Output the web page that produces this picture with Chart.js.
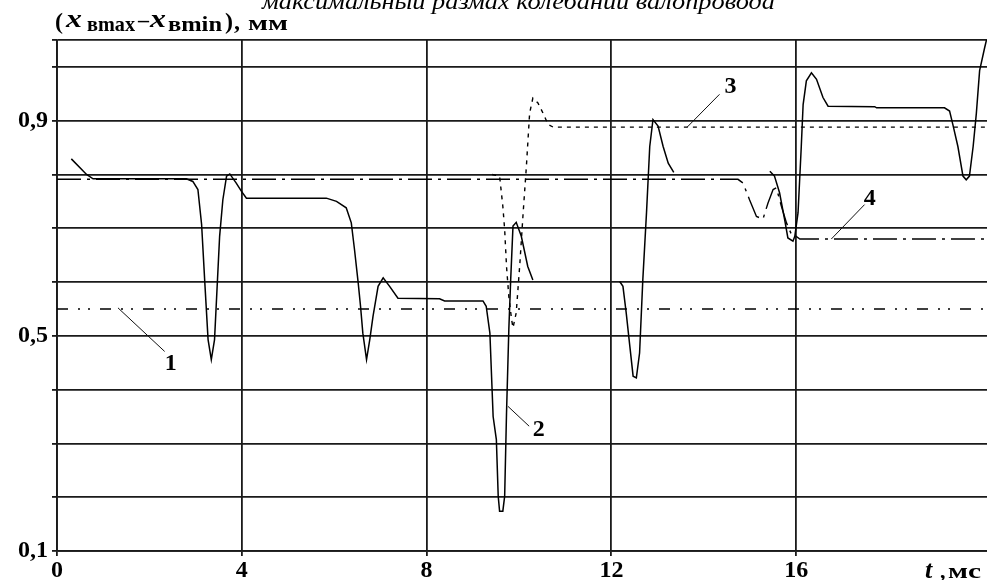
<!DOCTYPE html>
<html><head><meta charset="utf-8">
<script src="https://cdn.jsdelivr.net/npm/chart.js@4.4.0/dist/chart.umd.min.js"></script>
<style>html,body{margin:0;padding:0;background:#fff;overflow:hidden}#wrap{width:987px;height:580px;position:relative}</style>
</head><body><div id="wrap"><canvas id="c" width="987" height="580"></canvas></div>
<script>
// ---- data ----
const xTicks = [0, 4, 8, 12, 16];
const yTicks = [0.1, 0.2, 0.3, 0.4, 0.5, 0.6, 0.7, 0.8, 0.9, 1.0, 1.05];
const yLabeled = [0.1, 0.5, 0.9];
const xMin = 0, xMax = 20.13, yMin = 0.1, yMax = 1.05;

// series 1 (dash-dot-dot)
const s1T = [0, 20.13];
const s1V = [0.55, 0.55];

// series 2 (solid, segmented; null = gap)
const s2T = [0.31,0.64,0.78,2.80,2.94,3.05,3.13,3.20,3.27,3.34,3.41,3.52,3.59,3.67,3.74,3.88,3.99,4.10,5.83,6.05,6.26,6.37,6.44,6.52,6.57,6.62,6.70,6.77,6.84,6.95,7.06,7.20,7.38,8.28,8.39,9.22,9.29,9.37,9.44,9.51,9.55,9.58,9.65,9.69,9.73,9.78,9.82,9.87,9.94,10.05,10.19,10.30,
  11.2,
  12.18,12.25,12.32,12.40,12.47,12.54,12.61,12.68,12.76,12.83,12.90,13.01,13.12,13.23,13.35,
  14.4,
  15.43,15.53,15.64,15.75,15.82,15.93,15.97,16.04,16.11,16.15,16.22,16.33,16.44,16.58,16.69,17.70,17.74,19.21,19.32,19.39,19.50,19.61,19.68,19.75,19.83,19.90,19.97,20.08,20.13];
const s2V = [0.829,0.800,0.792,0.792,0.787,0.772,0.707,0.598,0.493,0.456,0.493,0.685,0.753,0.797,0.801,0.784,0.769,0.756,0.756,0.750,0.738,0.710,0.660,0.598,0.555,0.505,0.456,0.493,0.536,0.592,0.608,0.592,0.570,0.569,0.565,0.565,0.555,0.505,0.350,0.307,0.202,0.174,0.174,0.202,0.357,0.512,0.604,0.704,0.711,0.685,0.629,0.604,
  null,
  0.601,0.592,0.543,0.480,0.425,0.422,0.468,0.604,0.729,0.852,0.902,0.890,0.852,0.821,0.804,
  null,
  0.806,0.797,0.766,0.716,0.682,0.676,0.685,0.729,0.852,0.930,0.974,0.989,0.977,0.943,0.927,0.926,0.924,0.924,0.918,0.893,0.852,0.797,0.790,0.797,0.852,0.914,0.993,1.036,1.054];

// series 3 (dotted)
const s3T = [9.42,9.58,9.65,9.69,9.73,9.78,9.84,9.87,9.94,10.02,10.09,10.16,10.23,10.30,10.41,10.52,10.63,10.74,20.13];
const s3V = [0.800,0.797,0.741,0.697,0.629,0.573,0.530,0.515,0.543,0.636,0.729,0.815,0.914,0.942,0.933,0.914,0.893,0.888,0.888];

// series 4 (dash-dot)
const s4T = [0,14.74,14.85,14.99,15.14,15.28,15.39,15.50,15.57,15.68,15.79,15.90,16.00,16.08,20.13];
const s4V = [0.791,0.791,0.784,0.753,0.722,0.717,0.747,0.772,0.775,0.741,0.710,0.688,0.685,0.680,0.680];

// curve labels and leader lines
const curveNames = ['1', '2', '3', '4'];
const labelT = [2.46, 10.43, 14.58, 17.59];
const labelV = [0.449, 0.328, 0.965, 0.757];
const leaderT = [[1.32, 2.33], [9.76, 10.22], [13.64, 14.34], [16.76, 17.48]];
const leaderV = [[0.552, 0.471], [0.369, 0.332], [0.888, 0.949], [0.680, 0.744]];

const titleText = 'максимальный размах колебаний валопровода';

// ---- build ----
const pts = (T, V) => T.map((t, i) => ({x: t, y: V[i]}));
const serif = '"Liberation Serif", "Times New Roman", serif';

const datasets = [
  {data: pts(s2T, s2V), borderColor: '#000', borderWidth: 1.5, spanGaps: false},
  {data: pts(s1T, s1V), borderColor: '#000', borderWidth: 1.4, borderDash: [11, 10, 2, 8, 2, 10]},
  {data: pts(s3T, s3V), borderColor: '#000', borderWidth: 1.4, borderDash: [4, 5]},
  {data: pts(s4T, s4V), borderColor: '#000', borderWidth: 1.4, borderDash: [24, 6, 3, 6]},
];
leaderT.forEach((T, i) => datasets.push({data: pts(T, leaderV[i]), borderColor: '#111', borderWidth: 1}));
datasets.forEach(d => { d.pointRadius = 0; d.tension = 0; d.fill = false; });

function fitText(ctx, txt, x, y, w) {
  const m = ctx.measureText(txt).width;
  ctx.save();
  ctx.translate(x, y);
  ctx.scale(w / m, 1);
  ctx.fillText(txt, 0, 0);
  ctx.restore();
}

const annot = {
  id: 'annot',
  afterDraw(chart) {
    const {ctx, scales: {x, y}} = chart;
    ctx.save();
    ctx.fillStyle = '#000';
    ctx.textAlign = 'left';
    ctx.textBaseline = 'alphabetic';
    // cut-off title at top
    ctx.font = 'italic 24px ' + serif;
    fitText(ctx, titleText, 262, 9, 513);
    // y-axis title
    ctx.font = 'bold 24px ' + serif;
    ctx.fillText('(', 55, 29);
    ctx.font = 'italic bold 26px ' + serif;
    fitText(ctx, 'x', 66, 27, 16);
    ctx.font = 'bold 21px ' + serif;
    fitText(ctx, 'вmax', 87, 31, 48);
    ctx.font = 'bold 22px ' + serif;
    ctx.fillText('–', 138, 27);
    ctx.font = 'italic bold 26px ' + serif;
    fitText(ctx, 'x', 150, 27, 16);
    ctx.font = 'bold 21px ' + serif;
    fitText(ctx, 'вmin', 168, 31, 54);
    ctx.font = 'bold 24px ' + serif;
    ctx.fillText(')', 225, 29);
    ctx.fillText(',', 234, 29);
    ctx.font = 'bold 22px ' + serif;
    fitText(ctx, 'мм', 248, 30, 40);
    // x-axis title
    ctx.font = 'italic bold 26px ' + serif;
    ctx.fillText('t', 925, 578);
    ctx.font = 'bold 22px ' + serif;
    ctx.fillText(',', 940, 578);
    fitText(ctx, 'мс', 948, 578, 33);
    // curve labels
    ctx.font = 'bold 24px ' + serif;
    ctx.textAlign = 'center';
    ctx.textBaseline = 'middle';
    curveNames.forEach((n, i) => ctx.fillText(n, x.getPixelForValue(labelT[i]), y.getPixelForValue(labelV[i]) + 1));
    ctx.restore();
  }
};

new Chart(document.getElementById('c'), {
  type: 'line',
  data: {datasets},
  options: {
    responsive: false,
    animation: false,
    events: [],
    layout: {padding: {top: 40, right: 0, left: 0, bottom: 0}},
    plugins: {legend: {display: false}, tooltip: {enabled: false}, title: {display: false}},
    scales: {
      x: {
        type: 'linear', min: xMin, max: xMax,
        afterBuildTicks: s => { s.ticks = xTicks.map(v => ({value: v})); },
        afterFit: s => { s.height = 29; },
        grid: {color: '#1a1a1a', lineWidth: 1.8, tickLength: 5, drawTicks: true},
        border: {color: '#1a1a1a', width: 1.8},
        ticks: {autoSkip: false, maxRotation: 0, padding: 0, color: '#000',
          font: {family: serif, size: 24, weight: 'bold'},
          callback: v => String(v)}
      },
      y: {
        type: 'linear', min: yMin, max: yMax,
        afterBuildTicks: s => { s.ticks = yTicks.map(v => ({value: v})); },
        afterFit: s => { s.width = 57; },
        grid: {color: '#1a1a1a', lineWidth: 1.8, tickLength: 5, drawTicks: true},
        border: {color: '#1a1a1a', width: 1.8},
        ticks: {autoSkip: false, padding: 4, color: '#000',
          font: {family: serif, size: 24, weight: 'bold'},
          callback: v => yLabeled.some(l => Math.abs(l - v) < 1e-6) ? v.toFixed(1).replace('.', ',') : ''}
      }
    }
  },
  plugins: [annot]
});
</script>
</body></html>
